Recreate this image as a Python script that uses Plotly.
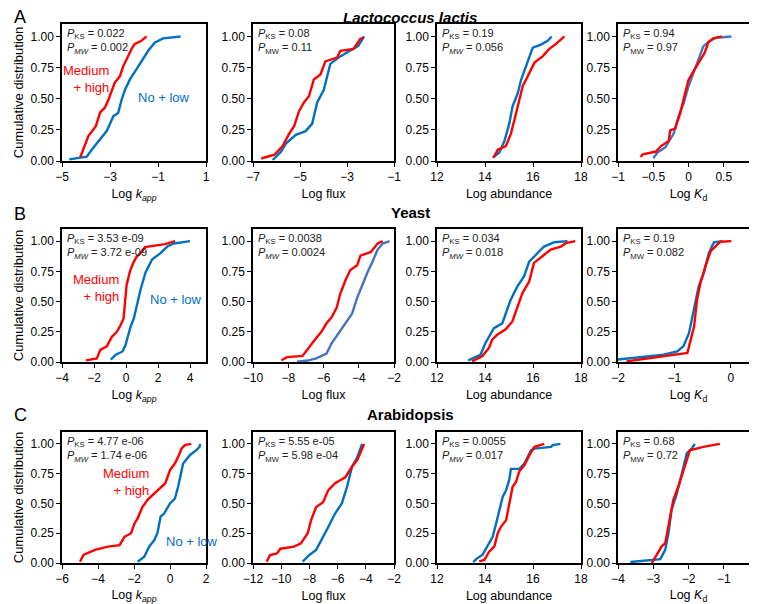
import plotly.graph_objects as go

W, H = 757, 604
OFFX, OFFY = 0, 8  # observed page offset of the figure in the screenshot
FW, FH = W - OFFX, H - OFFY

# ---------------- data ----------------
# Row A: Lactococcus lactis
A1_red_x = [-4.24, -4.06, -3.9, -3.59, -3.41, -3.21, -3.07, -2.8, -2.59, -2.45, -2.31, -2.1, -1.97, -1.69, -1.48]
A1_red_y = [0.03, 0.12, 0.2, 0.28, 0.39, 0.43, 0.49, 0.63, 0.68, 0.76, 0.82, 0.9, 0.94, 0.965, 1.0]
A1_blue_x = [-4.7, -3.97, -3.76, -3.41, -3.14, -3.0, -2.86, -2.66, -2.52, -2.38, -2.17, -1.9, -1.69, -1.41, -1.14, -0.79, -0.06]
A1_blue_y = [0.013, 0.035, 0.09, 0.17, 0.24, 0.3, 0.36, 0.385, 0.49, 0.57, 0.655, 0.735, 0.8, 0.885, 0.95, 0.985, 1.0]

A2_red_x = [-6.65, -6.09, -5.74, -5.46, -5.25, -5.04, -4.83, -4.62, -4.41, -4.13, -3.92, -3.42, -3.28, -2.72, -2.44, -2.3]
A2_red_y = [0.02, 0.05, 0.12, 0.22, 0.28, 0.4, 0.47, 0.52, 0.655, 0.695, 0.8, 0.83, 0.885, 0.9, 0.98, 0.99]
A2_blue_x = [-6.16, -5.81, -5.6, -5.18, -4.76, -4.48, -4.27, -3.99, -3.71, -3.29, -2.52, -2.27]
A2_blue_y = [0.008, 0.075, 0.14, 0.21, 0.24, 0.3, 0.47, 0.57, 0.78, 0.84, 0.925, 1.0]

A3_red_x = [14.36, 14.53, 14.87, 15.08, 15.29, 15.43, 15.57, 15.78, 16.06, 16.4, 16.68, 16.96, 17.17, 17.31]
A3_red_y = [0.027, 0.09, 0.12, 0.22, 0.38, 0.49, 0.6, 0.68, 0.79, 0.84, 0.9, 0.94, 0.98, 1.0]
A3_blue_x = [14.32, 14.6, 14.81, 15.01, 15.15, 15.36, 15.5, 15.71, 15.99, 16.33, 16.61, 16.78]
A3_blue_y = [0.027, 0.068, 0.16, 0.3, 0.44, 0.54, 0.65, 0.76, 0.91, 0.935, 0.965, 1.0]

A4_red_x = [-0.68, -0.65, -0.46, -0.39, -0.28, -0.26, -0.19, -0.12, -0.05, 0.0, 0.07, 0.14, 0.23, 0.28, 0.35, 0.47]
A4_red_y = [0.033, 0.054, 0.076, 0.12, 0.16, 0.245, 0.26, 0.38, 0.54, 0.65, 0.72, 0.79, 0.87, 0.95, 0.985, 1.0]
A4_blue_x = [-0.5, -0.44, -0.33, -0.28, -0.21, -0.14, -0.07, 0.0, 0.07, 0.14, 0.21, 0.3, 0.4, 0.61]
A4_blue_y = [0.022, 0.068, 0.11, 0.16, 0.22, 0.36, 0.46, 0.6, 0.71, 0.81, 0.92, 0.965, 0.99, 1.0]

# Row B: Yeast
B1_red_x = [-2.5, -1.82, -1.61, -1.2, -0.88, -0.57, -0.36, -0.15, -0.05, 0.04, 0.25, 0.45, 0.66, 0.98, 1.19, 2.44, 3.06]
B1_red_y = [0.014, 0.03, 0.1, 0.13, 0.21, 0.25, 0.3, 0.36, 0.51, 0.64, 0.75, 0.82, 0.87, 0.91, 0.95, 0.975, 1.0]
B1_blue_x = [-0.95, -0.64, -0.22, -0.03, 0.28, 0.49, 0.7, 0.91, 1.22, 1.64, 2.16, 2.58, 3.0, 4.0]
B1_blue_y = [0.02, 0.06, 0.087, 0.14, 0.29, 0.36, 0.48, 0.6, 0.74, 0.85, 0.9, 0.955, 0.98, 1.0]

B2_red_x = [-8.39, -8.06, -7.19, -6.9, -6.51, -6.12, -5.83, -5.54, -5.25, -5.06, -4.77, -4.48, -4.09, -3.9, -3.31, -2.93, -2.64]
B2_red_y = [0.014, 0.04, 0.05, 0.11, 0.18, 0.25, 0.32, 0.37, 0.45, 0.56, 0.67, 0.76, 0.8, 0.88, 0.91, 0.98, 1.0]
B2_blue_x = [-7.5, -6.9, -6.41, -5.83, -5.54, -5.16, -4.77, -4.38, -4.09, -3.8, -3.51, -3.22, -2.93, -2.64, -2.25]
B2_blue_y = [0.002, 0.012, 0.03, 0.07, 0.155, 0.235, 0.317, 0.4, 0.53, 0.64, 0.74, 0.83, 0.93, 0.98, 1.0]

B3_red_x = [13.46, 13.88, 14.16, 14.3, 14.51, 14.86, 15.14, 15.35, 15.56, 15.84, 16.04, 16.39, 16.74, 17.16, 17.37, 17.76]
B3_red_y = [0.005, 0.047, 0.115, 0.185, 0.225, 0.27, 0.335, 0.46, 0.57, 0.665, 0.82, 0.875, 0.93, 0.955, 0.983, 1.0]
B3_blue_x = [13.3, 13.53, 13.81, 14.02, 14.16, 14.37, 14.72, 14.86, 15.07, 15.35, 15.63, 15.84, 16.12, 16.46, 16.88, 17.44]
B3_blue_y = [0.014, 0.033, 0.06, 0.157, 0.21, 0.28, 0.32, 0.405, 0.515, 0.625, 0.71, 0.83, 0.89, 0.955, 0.99, 1.0]

B4_red_x = [-1.85, -1.19, -0.92, -0.77, -0.71, -0.65, -0.6, -0.54, -0.45, -0.36, -0.24, -0.18, 0.01]
B4_red_y = [0.005, 0.047, 0.07, 0.075, 0.185, 0.295, 0.51, 0.65, 0.79, 0.915, 0.97, 0.995, 1.0]
B4_blue_x = [-2.0, -1.49, -1.19, -0.95, -0.84, -0.74, -0.65, -0.57, -0.48, -0.39, -0.3, -0.15]
B4_blue_y = [0.02, 0.047, 0.06, 0.088, 0.13, 0.24, 0.43, 0.625, 0.735, 0.9, 0.99, 1.0]

# Row C: Arabidopsis
C1_red_x = [-5.0, -4.81, -4.17, -3.44, -2.8, -2.53, -2.16, -1.98, -1.8, -1.53, -1.25, -0.98, -0.61, -0.26, 0.0, 0.27, 0.45, 0.64, 0.82, 1.18]
C1_red_y = [0.011, 0.067, 0.11, 0.137, 0.15, 0.22, 0.25, 0.33, 0.375, 0.47, 0.53, 0.57, 0.625, 0.67, 0.78, 0.835, 0.89, 0.96, 0.99, 1.0]
C1_blue_x = [-1.8, -1.43, -1.16, -0.88, -0.7, -0.52, -0.33, 0.0, 0.27, 0.45, 0.73, 1.1, 1.46, 1.64, 1.68]
C1_blue_y = [0.011, 0.053, 0.137, 0.19, 0.25, 0.39, 0.415, 0.5, 0.54, 0.64, 0.835, 0.905, 0.947, 0.975, 1.0]

C2_red_x = [-11.03, -10.79, -10.3, -10.06, -9.09, -8.6, -8.12, -7.88, -7.52, -7.03, -6.67, -6.18, -5.45, -4.97, -4.6, -4.24, -4.12]
C2_red_y = [0.011, 0.067, 0.08, 0.12, 0.137, 0.165, 0.25, 0.36, 0.47, 0.51, 0.61, 0.67, 0.72, 0.81, 0.865, 0.96, 1.0]
C2_blue_x = [-8.48, -8.0, -7.52, -7.15, -6.67, -6.18, -5.7, -5.33, -4.97, -4.6, -4.26]
C2_blue_y = [0.011, 0.067, 0.11, 0.19, 0.3, 0.415, 0.5, 0.64, 0.81, 0.89, 1.0]

C3_red_x = [13.76, 13.97, 14.18, 14.39, 14.53, 14.67, 14.88, 15.01, 15.15, 15.29, 15.43, 15.64, 15.85, 16.06, 16.47]
C3_red_y = [0.014, 0.025, 0.097, 0.14, 0.25, 0.306, 0.36, 0.49, 0.64, 0.68, 0.77, 0.82, 0.905, 0.975, 1.0]
C3_blue_x = [13.51, 13.63, 13.9, 14.11, 14.32, 14.46, 14.6, 14.74, 14.88, 15.01, 15.08, 15.43, 15.64, 15.92, 16.06, 16.75, 16.82, 17.14]
C3_blue_y = [0.008, 0.033, 0.07, 0.14, 0.22, 0.33, 0.446, 0.557, 0.61, 0.7, 0.79, 0.79, 0.836, 0.947, 0.96, 0.975, 0.99, 1.0]

C4_red_x = [-3.04, -2.9, -2.76, -2.66, -2.57, -2.43, -2.29, -2.1, -1.96, -1.58, -1.11]
C4_red_y = [0.0, 0.07, 0.14, 0.167, 0.306, 0.53, 0.64, 0.81, 0.947, 0.975, 1.0]
C4_blue_x = [-3.65, -3.05, -2.8, -2.66, -2.57, -2.48, -2.33, -2.19, -2.05, -1.91, -1.82]
C4_blue_y = [0.008, 0.022, 0.033, 0.11, 0.25, 0.446, 0.585, 0.75, 0.92, 0.96, 1.0]

# p-values: (KS, MW, MW subscript italic?)
p_values = {
    "A1": ("0.022", "0.002", True), "A2": ("0.08", "0.11", False),
    "A3": ("0.19", "0.056", True), "A4": ("0.94", "0.97", False),
    "B1": ("3.53 e-09", "3.72 e-09", True), "B2": ("0.0038", "0.0024", True),
    "B3": ("0.034", "0.018", True), "B4": ("0.19", "0.082", False),
    "C1": ("4.77 e-06", "1.74 e-06", True), "C2": ("5.55 e-05", "5.98 e-04", False),
    "C3": ("0.0055", "0.017", True), "C4": ("0.68", "0.72", False),
}

row_titles = ["<b><i>Lactococcus lactis</i></b>", "<b>Yeast</b>", "<b>Arabidopsis</b>"]
row_letters = ["A", "B", "C"]
x_titles = ["Log <i>k</i><sub><i>app</i></sub>", "Log flux", "Log abundance", "Log <i>K</i><sub>d</sub>"]

x_ranges = {
    "A": [[-5, 1], [-7, -1], [12, 18], [-1, 1]],
    "B": [[-4, 5], [-10, -2], [12, 18], [-2, 0.5]],
    "C": [[-6, 2], [-12, -2], [12, 18], [-4, 0]],
}
x_ticks = {
    "A": [[-5, -3, -1, 1], [-7, -5, -3, -1], [12, 14, 16, 18], [-1, -0.5, 0, 0.5, 1]],
    "B": [[-4, -2, 0, 2, 4], [-10, -8, -6, -4, -2], [12, 14, 16, 18], [-2, -1, 0]],
    "C": [[-6, -4, -2, 0, 2], [-12, -10, -8, -6, -4, -2], [12, 14, 16, 18], [-4, -3, -2, -1, 0]],
}
y_ticks = [0, 0.25, 0.5, 0.75, 1.0]

# ---------------- layout geometry (reference pixels) ----------------
col_px = [(54, 198), (245, 386), (429, 573), (610, 751)]
row_px = [(24, 161), (229, 362), (432, 563)]


def px(x):
    return (x - OFFX) / FW


def py(y):
    return 1 - (y - OFFY) / FH


RED = "#FF0000"
BLUE = "#0070C0"
BLUE2 = "#4472C4"
blue_colors = {"A4": BLUE2, "B2": BLUE2}

series = {}
g = globals()
for r in row_letters:
    for c in range(1, 5):
        k = f"{r}{c}"
        series[k] = (g[f"{k}_red_x"], g[f"{k}_red_y"], g[f"{k}_blue_x"], g[f"{k}_blue_y"])

fig = go.Figure()
FONT = "Liberation Sans, Arial, sans-serif"
annotations = []
idx = 0
for ri, r in enumerate(row_letters):
    y0p, y1p = row_px[ri]
    for ci in range(4):
        idx += 1
        k = f"{r}{ci+1}"
        xa = "x" if idx == 1 else f"x{idx}"
        ya = "y" if idx == 1 else f"y{idx}"
        rx, ry, bx, by = series[k]
        fig.add_trace(go.Scatter(x=bx, y=by, mode="lines", xaxis=xa, yaxis=ya,
                                 line=dict(color=blue_colors.get(k, BLUE), width=2.4), showlegend=False))
        fig.add_trace(go.Scatter(x=rx, y=ry, mode="lines", xaxis=xa, yaxis=ya,
                                 line=dict(color=RED, width=2.4), showlegend=False))
        x0p, x1p = col_px[ci]
        common = dict(showline=True, linecolor="black", linewidth=1.5, mirror=True,
                      ticks="outside", ticklen=4, tickwidth=1, tickcolor="black",
                      showgrid=False, zeroline=False, automargin=False,
                      tickfont=dict(family=FONT, size=12, color="black"))
        xkey = "xaxis" if idx == 1 else f"xaxis{idx}"
        ykey = "yaxis" if idx == 1 else f"yaxis{idx}"
        fig.layout[xkey] = dict(common, domain=[px(x0p), px(x1p)], anchor=ya,
                                range=x_ranges[r][ci], tickvals=x_ticks[r][ci],
                                title=dict(text=x_titles[ci], font=dict(family=FONT, size=12.5, color="black"), standoff=6))
        ydict = dict(common, domain=[py(y1p), py(y0p)], anchor=xa,
                     range=[0, 1.1], tickvals=y_ticks, tickformat=".2f")
        if ci == 0:
            ydict["title"] = dict(text="Cumulative distribution", font=dict(family=FONT, size=13, color="black"), standoff=4)
        fig.layout[ykey] = ydict

        ks, mw, mw_it = p_values[k]
        mwsub = "<sub><i>MW</i></sub>" if mw_it else "<sub>MW</sub>"
        txt = f"<i>P</i><sub>KS</sub> = {ks}<br><i>P</i>{mwsub} = {mw}"
        annotations.append(dict(x=px(x0p + 3), y=py(y0p + 1), xref="paper", yref="paper",
                                text=txt, showarrow=False, xanchor="left", yanchor="top", align="left",
                                font=dict(family=FONT, size=11, color="#222")))

# group labels in first column
lab_pos = [((103, 79), (128, 97)), ((113, 288), (140, 299)), ((143, 482), (156, 541))]
for ri in range(3):
    (mx, my), (nx, ny) = lab_pos[ri]
    annotations.append(dict(x=px(mx), y=py(my), xref="paper", yref="paper", text="Medium<br>+ high",
                            showarrow=False, xanchor="right", yanchor="middle", align="right",
                            font=dict(family=FONT, size=13, color=RED)))
    annotations.append(dict(x=px(nx), y=py(ny), xref="paper", yref="paper", text="No + low",
                            showarrow=False, xanchor="left", yanchor="middle", align="left",
                            font=dict(family=FONT, size=13, color=BLUE)))

title_y = [17, 213, 414]
letter_y = [17, 214, 415]
for ri in range(3):
    annotations.append(dict(x=px(402), y=py(title_y[ri]), xref="paper", yref="paper", text=row_titles[ri],
                            showarrow=False, xanchor="center", yanchor="middle",
                            font=dict(family=FONT, size=15, color="black")))
    annotations.append(dict(x=px(4), y=py(letter_y[ri]), xref="paper", yref="paper", text=row_letters[ri],
                            showarrow=False, xanchor="left", yanchor="middle",
                            font=dict(family=FONT, size=18, color="black")))

fig.update_layout(width=FW, height=FH, margin=dict(l=0, r=0, t=0, b=0),
                  paper_bgcolor="white", plot_bgcolor="white",
                  annotations=annotations, font=dict(family=FONT))
fig.write_html("out.html")
